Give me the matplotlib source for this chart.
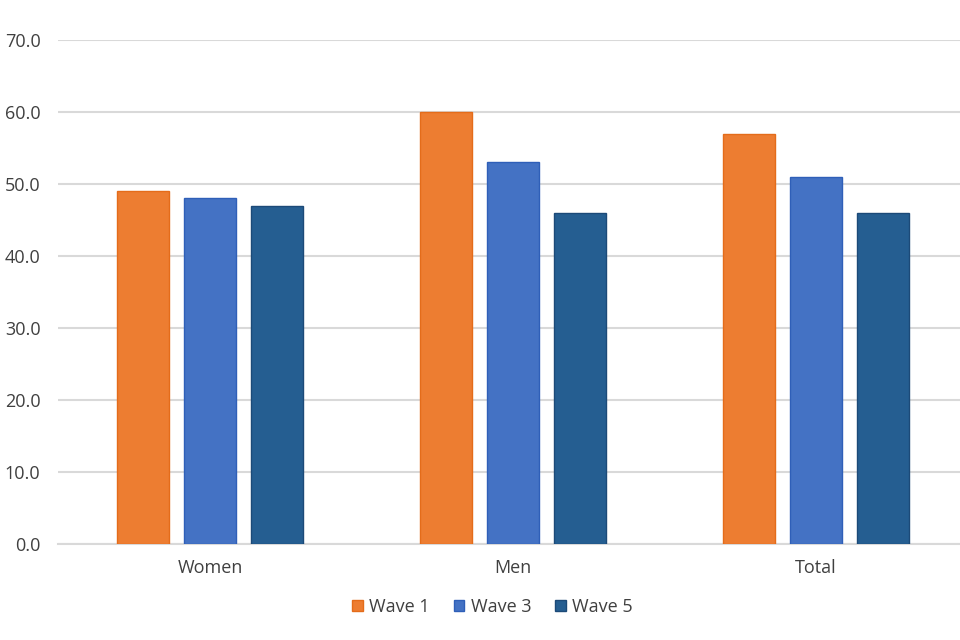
import numpy as np
import matplotlib
matplotlib.use('Agg')
import matplotlib.pyplot as plt

matplotlib.rcParams['font.family'] = ['Open Sans', 'DejaVu Sans']

categories = ['Women', 'Men', 'Total']
series_names = ['Wave 1', 'Wave 3', 'Wave 5']
wave1 = [49, 60, 57]
wave3 = [48, 53, 51]
wave5 = [47, 46, 46]

colors = ['#ED7D31', '#4472C4', '#255E91']
edges = ['#E46C1A', '#2F5FB8', '#1C4A78']

fig = plt.figure(figsize=(9.6, 6.4), dpi=100)
ax = fig.add_axes([0.0609, 0.15, 0.947, 0.7875])

x = np.arange(len(categories))
width = 0.172
step = 0.221
for i, (vals, c, e, name) in enumerate(zip([wave1, wave3, wave5], colors, edges, series_names)):
    ax.bar(x + (i - 1) * step, vals, width, color=c, edgecolor=e, linewidth=1, label=name, zorder=3)

ax.set_xlim(-0.5, 2.5)
ax.set_ylim(0, 70)
ax.set_yticks(np.arange(0, 71, 10))
ax.set_yticklabels(['%.1f' % v for v in np.arange(0, 71, 10)])
ax.set_xticks(x)
ax.set_xticklabels(categories)
ax.yaxis.grid(True, color='#D9D9D9', linewidth=1.5, zorder=0)
ax.set_axisbelow(True)
for s in ['top', 'right', 'left']:
    ax.spines[s].set_visible(False)
ax.spines['bottom'].set_color('#D9D9D9')
ax.spines['bottom'].set_linewidth(1.5)
ax.tick_params(axis='both', length=0, labelsize=13, colors='#404040')
ax.tick_params(axis='y', pad=13)
ax.tick_params(axis='x', pad=11)

fig.legend(loc='center', bbox_to_anchor=(0.513, 0.052), ncol=3, frameon=False,
           fontsize=13, handlelength=0.6, handleheight=0.6, handletextpad=0.35,
           columnspacing=1.3, labelcolor='#404040')

fig.savefig('out.png', dpi=100)
